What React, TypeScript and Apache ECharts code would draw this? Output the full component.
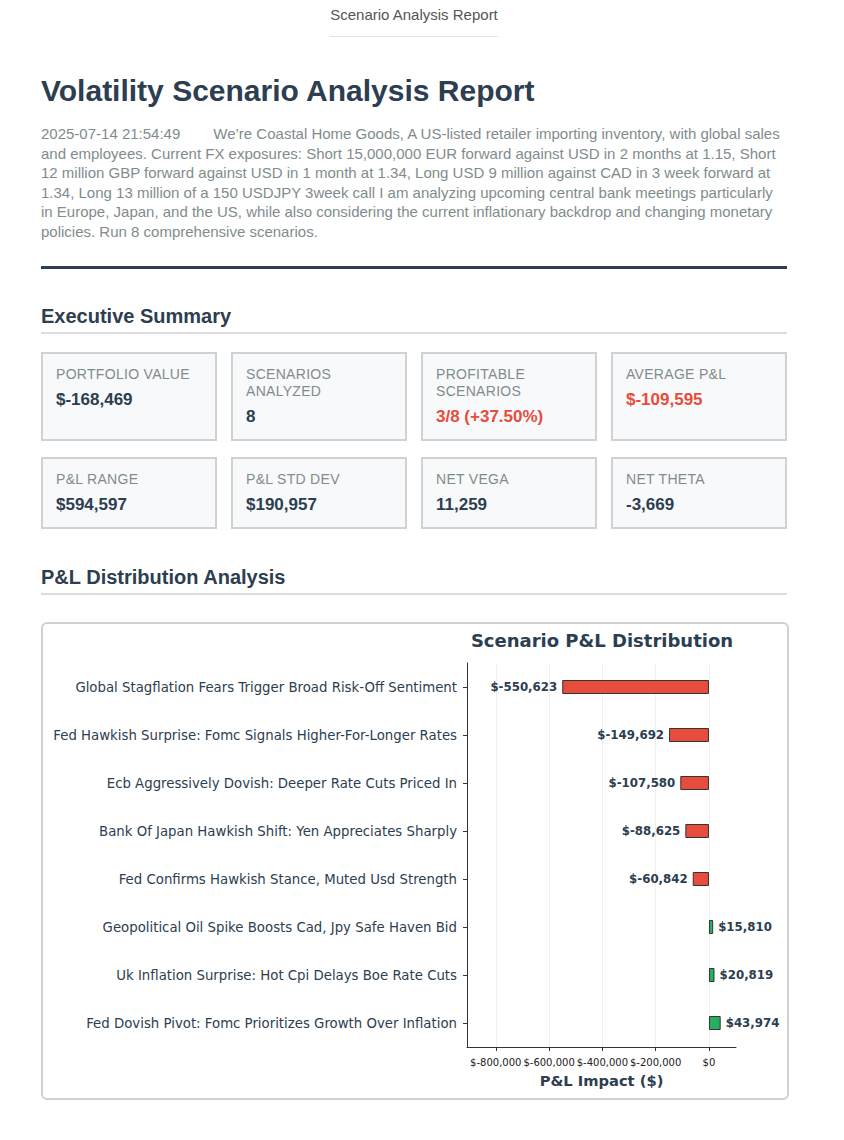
import React, { useEffect, useRef } from "react";
import * as echarts from "echarts";

const categories = [
  "Global Stagflation Fears Trigger Broad Risk-Off Sentiment",
  "Fed Hawkish Surprise: Fomc Signals Higher-For-Longer Rates",
  "Ecb Aggressively Dovish: Deeper Rate Cuts Priced In",
  "Bank Of Japan Hawkish Shift: Yen Appreciates Sharply",
  "Fed Confirms Hawkish Stance, Muted Usd Strength",
  "Geopolitical Oil Spike Boosts Cad, Jpy Safe Haven Bid",
  "Uk Inflation Surprise: Hot Cpi Delays Boe Rate Cuts",
  "Fed Dovish Pivot: Fomc Prioritizes Growth Over Inflation",
];
const pnlValues = [-550623, -149692, -107580, -88625, -60842, 15810, 20819, 43974];
const xTicks = [-800000, -600000, -400000, -200000, 0];
const X_MIN = -908000;
const X_MAX = 101500;

const kpiLabels = [
  "PORTFOLIO VALUE",
  "SCENARIOS ANALYZED",
  "PROFITABLE SCENARIOS",
  "AVERAGE P&L",
  "P&L RANGE",
  "P&L STD DEV",
  "NET VEGA",
  "NET THETA",
];
const kpiValues = ["$-168,469", "8", "3/8 (+37.50%)", "$-109,595", "$594,597", "$190,957", "11,259", "-3,669"];
const kpiNegative = [false, false, true, true, false, false, false, false];

const paragraphLines = [
  "and employees. Current FX exposures: Short 15,000,000 EUR forward against USD in 2 months at 1.15, Short",
  "12 million GBP forward against USD in 1 month at 1.34, Long USD 9 million against CAD in 3 week forward at",
  "1.34, Long 13 million of a 150 USDJPY 3week call I am analyzing upcoming central bank meetings particularly",
  "in Europe, Japan, and the US, while also considering the current inflationary backdrop and changing monetary",
  "policies. Run 8 comprehensive scenarios.",
];

const DARK = "#2c3e50";
const RED = "#e74c3c";
const GREEN = "#27ae60";
const GREY = "#7f8c8d";
const SANS = "'Liberation Sans', Arial, Helvetica, sans-serif";
const DJ = "DejaVu Sans";

const money = (v: number) => "$" + v.toLocaleString("en-US");

function Chart() {
  const ref = useRef<HTMLDivElement>(null);
  useEffect(() => {
    if (!ref.current) return;
    const chart = echarts.init(ref.current, null, { renderer: "svg" });
    chart.setOption({
      animation: false,
      title: {
        text: "Scenario P&L Distribution",
        left: 554,
        top: 2,
        textAlign: "center",
        textStyle: { fontFamily: DJ, fontWeight: "bold", fontSize: 18, color: DARK },
      },
      grid: { left: 424, right: 51, top: 39, bottom: 51, containLabel: false, outerBoundsMode: "none" },
      xAxis: {
        type: "value",
        min: X_MIN,
        max: X_MAX,
        name: "P&L Impact ($)",
        nameLocation: "middle",
        nameGap: 26,
        nameTextStyle: { fontFamily: DJ, fontWeight: "bold", fontSize: 14.7, color: DARK },
        axisLine: { show: true, onZero: false, lineStyle: { color: "#333", width: 1 } },
        axisTick: { show: true, length: 4, customValues: xTicks, lineStyle: { color: "#333" } },
        axisLabel: {
          customValues: xTicks,
          formatter: (v: number) => money(v),
          fontFamily: DJ,
          fontSize: 10,
          color: "#222",
          margin: 10,
        },
        splitLine: { show: false },
      },
      yAxis: {
        type: "category",
        data: categories,
        inverse: true,
        axisLine: { show: true, onZero: false, lineStyle: { color: "#333", width: 1 } },
        axisTick: { show: true, alignWithLabel: true, length: 4, lineStyle: { color: "#333" } },
        axisLabel: { fontFamily: DJ, fontSize: 13.3, color: DARK, margin: 10 },
        splitLine: { show: false },
      },
      series: [
        {
          type: "line",
          data: [],
          z: 0,
          silent: true,
          markLine: {
            z: 0,
            silent: true,
            symbol: "none",
            label: { show: false },
            lineStyle: { color: "#efefef", type: "solid", width: 1 },
            data: xTicks.map((v) => ({ xAxis: v })),
          },
        },
        {
          type: "bar",
          z: 3,
          barWidth: 14,
          data: pnlValues.map((v) => ({ value: v, itemStyle: { color: v < 0 ? RED : GREEN } })),
          itemStyle: { borderColor: "#333", borderWidth: 1 },
          label: {
            show: true,
            position: "outside",
            distance: 5,
            formatter: (p: any) => money(p.value),
            fontFamily: DJ,
            fontWeight: "bold",
            fontSize: 11.8,
            color: DARK,
          },
        },
      ],
    });
    return () => chart.dispose();
  }, []);
  return <div ref={ref} style={{ width: 744, height: 474 }} />;
}

export default function App() {
  const abs = (left: number, top: number, extra: React.CSSProperties = {}): React.CSSProperties => ({
    position: "absolute",
    left,
    top,
    ...extra,
  });
  return (
    <div style={{ position: "absolute", left: 0, top: 0, width: 844, height: 1140, fontFamily: SANS, background: "#fff" }}>
      <div style={abs(0, 6, { width: 828, textAlign: "center" })}>
        <span
          style={{
            display: "inline-block",
            fontSize: 15,
            lineHeight: "18px",
            color: "#555",
            paddingBottom: 12,
            borderBottom: "1px solid #e2e2e2",
          }}
        >
          Scenario Analysis Report
        </span>
      </div>

      <div style={abs(41, 73, { fontSize: 30, lineHeight: "36px", fontWeight: "bold", color: DARK, whiteSpace: "nowrap" })}>
        Volatility Scenario Analysis Report
      </div>

      <div style={abs(41, 124, { fontSize: 15, lineHeight: "19.5px", color: GREY, width: 760 })}>
        <div style={{ whiteSpace: "nowrap" }}>
          <span style={{ marginRight: 33 }}>2025-07-14 21:54:49</span>
          We’re Coastal Home Goods, A US-listed retailer importing inventory, with global sales
        </div>
        {paragraphLines.map((l, i) => (
          <div key={i} style={{ whiteSpace: "nowrap" }}>
            {l}
          </div>
        ))}
      </div>

      <div style={abs(41, 266, { width: 746, height: 3, background: DARK })} />

      <div style={abs(41, 304, { fontSize: 20, lineHeight: "24px", fontWeight: "bold", color: DARK })}>Executive Summary</div>
      <div style={abs(41, 332, { width: 746, height: 2, background: "#dcdcdc" })} />

      <div
        style={abs(41, 352, {
          width: 746,
          display: "grid",
          gridTemplateColumns: "repeat(4, 1fr)",
          columnGap: 14,
          rowGap: 16,
        })}
      >
        {kpiLabels.map((lab, i) => (
          <div
            key={i}
            style={{
              boxSizing: "border-box",
              border: "2px solid #cfd2d4",
              background: "#f8f9fa",
              padding: "12px 13px",
            }}
          >
            <div style={{ fontSize: 14, lineHeight: "17px", color: GREY, letterSpacing: 0.3 }}>{lab}</div>
            <div
              style={{
                marginTop: 6,
                fontSize: 17,
                lineHeight: "21px",
                fontWeight: "bold",
                color: kpiNegative[i] ? RED : DARK,
              }}
            >
              {kpiValues[i]}
            </div>
          </div>
        ))}
      </div>

      <div style={abs(41, 565, { fontSize: 20, lineHeight: "24px", fontWeight: "bold", color: DARK })}>
        P&amp;L Distribution Analysis
      </div>
      <div style={abs(41, 593, { width: 746, height: 2, background: "#dcdcdc" })} />

      <div
        style={abs(41, 622, {
          width: 748,
          height: 478,
          boxSizing: "border-box",
          border: "2px solid #d0d0d0",
          borderRadius: 6,
          background: "#fff",
        })}
      >
        <Chart />
      </div>
    </div>
  );
}
